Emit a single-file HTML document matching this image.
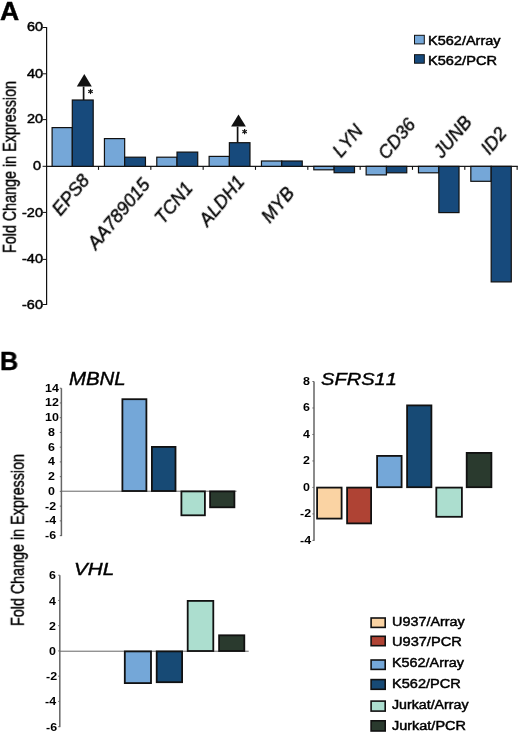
<!DOCTYPE html>
<html><head><meta charset="utf-8"><style>
html,body{margin:0;padding:0;background:#fff;}
body{width:520px;height:734px;position:relative;overflow:hidden;font-family:"Liberation Sans",sans-serif;font-kerning:none;}
.t{position:absolute;line-height:1;white-space:nowrap;transform-origin:0 0;will-change:transform;}
.r{position:absolute;}
.g{position:absolute;width:0;height:0;}
.g span{position:absolute;left:0;top:0;font-size:18.3px;line-height:1;font-style:italic;white-space:nowrap;transform:translate(-50%,-50%) rotate(-50deg);-webkit-text-stroke:0.35px #000;will-change:transform;}
.yt{position:absolute;width:0;height:0;}
.yt span{position:absolute;left:0;top:0;font-size:18.3px;line-height:1;white-space:nowrap;transform:translate(-50%,-50%) rotate(-90deg) scaleX(0.784);-webkit-text-stroke:0.4px #000;will-change:transform;}
</style></head><body>
<svg style="position:absolute;left:0;top:0" width="520" height="734" viewBox="0 0 520 734">
<rect x="46.00" y="27.00" width="1.20" height="278.00" fill="#111"/>
<rect x="42.60" y="27.00" width="4.00" height="1.00" fill="#111"/>
<rect x="42.60" y="73.30" width="4.00" height="1.00" fill="#111"/>
<rect x="42.60" y="119.10" width="4.00" height="1.00" fill="#111"/>
<rect x="42.60" y="165.80" width="4.00" height="1.00" fill="#111"/>
<rect x="42.60" y="211.90" width="4.00" height="1.00" fill="#111"/>
<rect x="42.60" y="258.90" width="4.00" height="1.00" fill="#111"/>
<rect x="42.60" y="304.00" width="4.00" height="1.00" fill="#111"/>
<rect x="46.60" y="165.75" width="471.20" height="1.20" fill="#111"/>
<rect x="97.95" y="166.35" width="1.10" height="3.50" fill="#111"/>
<rect x="150.28" y="166.35" width="1.10" height="3.50" fill="#111"/>
<rect x="202.61" y="166.35" width="1.10" height="3.50" fill="#111"/>
<rect x="254.94" y="166.35" width="1.10" height="3.50" fill="#111"/>
<rect x="307.27" y="166.35" width="1.10" height="3.50" fill="#111"/>
<rect x="359.60" y="166.35" width="1.10" height="3.50" fill="#111"/>
<rect x="411.93" y="166.35" width="1.10" height="3.50" fill="#111"/>
<rect x="464.26" y="166.35" width="1.10" height="3.50" fill="#111"/>
<rect x="516.59" y="166.35" width="1.10" height="3.50" fill="#111"/>
<rect x="52.10" y="127.60" width="20.20" height="38.75" fill="#75a7d8" stroke="#111" stroke-width="1.2"/>
<rect x="72.30" y="100.00" width="20.90" height="66.35" fill="#174a7c" stroke="#111" stroke-width="1.2"/>
<rect x="104.44" y="138.60" width="20.22" height="27.75" fill="#75a7d8" stroke="#111" stroke-width="1.2"/>
<rect x="124.66" y="157.20" width="20.80" height="9.15" fill="#174a7c" stroke="#111" stroke-width="1.2"/>
<rect x="156.78" y="157.20" width="20.24" height="9.15" fill="#75a7d8" stroke="#111" stroke-width="1.2"/>
<rect x="177.02" y="152.10" width="20.70" height="14.25" fill="#174a7c" stroke="#111" stroke-width="1.2"/>
<rect x="209.12" y="156.40" width="20.26" height="9.95" fill="#75a7d8" stroke="#111" stroke-width="1.2"/>
<rect x="229.38" y="142.70" width="20.60" height="23.65" fill="#174a7c" stroke="#111" stroke-width="1.2"/>
<rect x="261.46" y="161.00" width="20.28" height="5.35" fill="#75a7d8" stroke="#111" stroke-width="1.2"/>
<rect x="281.74" y="161.00" width="20.50" height="5.35" fill="#174a7c" stroke="#111" stroke-width="1.2"/>
<rect x="313.80" y="166.35" width="20.30" height="3.45" fill="#75a7d8" stroke="#111" stroke-width="1.2"/>
<rect x="334.10" y="166.35" width="20.40" height="6.35" fill="#174a7c" stroke="#111" stroke-width="1.2"/>
<rect x="366.14" y="166.35" width="20.32" height="8.55" fill="#75a7d8" stroke="#111" stroke-width="1.2"/>
<rect x="386.46" y="166.35" width="20.30" height="6.45" fill="#174a7c" stroke="#111" stroke-width="1.2"/>
<rect x="418.48" y="166.35" width="20.34" height="6.45" fill="#75a7d8" stroke="#111" stroke-width="1.2"/>
<rect x="438.82" y="166.35" width="20.20" height="46.25" fill="#174a7c" stroke="#111" stroke-width="1.2"/>
<rect x="470.82" y="166.35" width="20.36" height="14.95" fill="#75a7d8" stroke="#111" stroke-width="1.2"/>
<rect x="491.18" y="166.35" width="20.10" height="115.55" fill="#174a7c" stroke="#111" stroke-width="1.2"/>
<polygon points="76.8,86.6 91.8,86.6 84.3,74.0" fill="#111"/><line x1="83.6" y1="86.6" x2="83.6" y2="100.0" stroke="#111" stroke-width="1.7"/><g stroke="#111" stroke-width="1.15"><line x1="90.5" y1="88.9" x2="90.5" y2="94.1"/><line x1="88.2484" y1="90.2" x2="92.7516" y2="92.8"/><line x1="88.2484" y1="92.8" x2="92.7516" y2="90.2"/></g>
<polygon points="231.1,126.6 245.9,126.6 238.5,114.5" fill="#111"/><line x1="237.6" y1="126.6" x2="237.6" y2="142.5" stroke="#111" stroke-width="1.7"/><g stroke="#111" stroke-width="1.15"><line x1="244.6" y1="129.0" x2="244.6" y2="134.2"/><line x1="242.3484" y1="130.29999999999998" x2="246.8516" y2="132.9"/><line x1="242.3484" y1="132.9" x2="246.8516" y2="130.29999999999998"/></g>
<rect x="414.50" y="35.30" width="9.80" height="8.60" fill="#75a7d8" stroke="#111" stroke-width="1.0"/>
<rect x="414.50" y="54.70" width="9.80" height="8.50" fill="#174a7c" stroke="#111" stroke-width="1.0"/>
<rect x="60.65" y="388.20" width="1.50" height="147.90" fill="#666"/>
<rect x="59.80" y="387.70" width="1.60" height="1.00" fill="#666"/>
<rect x="59.80" y="402.44" width="1.60" height="1.00" fill="#666"/>
<rect x="59.80" y="417.18" width="1.60" height="1.00" fill="#666"/>
<rect x="59.80" y="431.92" width="1.60" height="1.00" fill="#666"/>
<rect x="59.80" y="446.66" width="1.60" height="1.00" fill="#666"/>
<rect x="59.80" y="461.40" width="1.60" height="1.00" fill="#666"/>
<rect x="59.80" y="476.14" width="1.60" height="1.00" fill="#666"/>
<rect x="59.80" y="490.88" width="1.60" height="1.00" fill="#666"/>
<rect x="59.80" y="505.62" width="1.60" height="1.00" fill="#666"/>
<rect x="59.80" y="520.36" width="1.60" height="1.00" fill="#666"/>
<rect x="59.80" y="535.10" width="1.60" height="1.00" fill="#666"/>
<rect x="61.40" y="490.70" width="175.10" height="1.00" fill="#666"/>
<rect x="122.40" y="399.20" width="24.00" height="91.80" fill="#74a7d8" stroke="#111" stroke-width="1.8"/>
<rect x="151.90" y="446.90" width="23.60" height="44.10" fill="#174a75" stroke="#111" stroke-width="1.8"/>
<rect x="181.40" y="491.40" width="23.50" height="23.90" fill="#acdecf" stroke="#111" stroke-width="1.8"/>
<rect x="210.10" y="491.40" width="24.30" height="15.90" fill="#2a3a2e" stroke="#111" stroke-width="1.8"/>
<rect x="313.25" y="381.50" width="1.50" height="159.38" fill="#666"/>
<rect x="312.40" y="381.00" width="1.60" height="1.00" fill="#666"/>
<rect x="312.40" y="407.48" width="1.60" height="1.00" fill="#666"/>
<rect x="312.40" y="433.96" width="1.60" height="1.00" fill="#666"/>
<rect x="312.40" y="460.44" width="1.60" height="1.00" fill="#666"/>
<rect x="312.40" y="486.92" width="1.60" height="1.00" fill="#666"/>
<rect x="312.40" y="513.40" width="1.60" height="1.00" fill="#666"/>
<rect x="312.40" y="539.88" width="1.60" height="1.00" fill="#666"/>
<rect x="317.10" y="487.60" width="24.50" height="31.00" fill="#fad3a3" stroke="#111" stroke-width="1.8"/>
<rect x="347.10" y="487.60" width="24.00" height="35.80" fill="#af4334" stroke="#111" stroke-width="1.8"/>
<rect x="377.10" y="455.90" width="24.50" height="31.30" fill="#74a7d8" stroke="#111" stroke-width="1.8"/>
<rect x="407.10" y="405.40" width="24.30" height="81.80" fill="#174a75" stroke="#111" stroke-width="1.8"/>
<rect x="436.30" y="487.60" width="25.60" height="29.20" fill="#acdecf" stroke="#111" stroke-width="1.8"/>
<rect x="466.70" y="452.90" width="24.70" height="34.30" fill="#2a3a2e" stroke="#111" stroke-width="1.8"/>
<rect x="59.05" y="575.20" width="1.50" height="151.94" fill="#666"/>
<rect x="58.20" y="574.70" width="1.60" height="1.00" fill="#666"/>
<rect x="58.20" y="599.94" width="1.60" height="1.00" fill="#666"/>
<rect x="58.20" y="625.18" width="1.60" height="1.00" fill="#666"/>
<rect x="58.20" y="650.42" width="1.60" height="1.00" fill="#666"/>
<rect x="58.20" y="675.66" width="1.60" height="1.00" fill="#666"/>
<rect x="58.20" y="700.90" width="1.60" height="1.00" fill="#666"/>
<rect x="58.20" y="726.14" width="1.60" height="1.00" fill="#666"/>
<rect x="59.80" y="650.70" width="188.90" height="1.00" fill="#666"/>
<rect x="124.80" y="651.40" width="26.20" height="31.70" fill="#74a7d8" stroke="#111" stroke-width="1.8"/>
<rect x="156.70" y="651.40" width="25.40" height="30.80" fill="#174a75" stroke="#111" stroke-width="1.8"/>
<rect x="187.70" y="600.90" width="25.60" height="50.10" fill="#acdecf" stroke="#111" stroke-width="1.8"/>
<rect x="219.10" y="635.30" width="25.20" height="15.70" fill="#2a3a2e" stroke="#111" stroke-width="1.8"/>
<rect x="371.10" y="618.00" width="14.10" height="9.40" fill="#fad3a3" stroke="#111" stroke-width="1.6"/>
<rect x="371.10" y="636.30" width="14.10" height="9.40" fill="#af4334" stroke="#111" stroke-width="1.6"/>
<rect x="371.10" y="660.00" width="14.10" height="9.40" fill="#74a7d8" stroke="#111" stroke-width="1.6"/>
<rect x="371.10" y="679.60" width="14.10" height="9.70" fill="#174a75" stroke="#111" stroke-width="1.6"/>
<rect x="371.10" y="701.10" width="14.10" height="10.00" fill="#acdecf" stroke="#111" stroke-width="1.6"/>
<rect x="371.10" y="720.80" width="14.10" height="10.20" fill="#2a3a2e" stroke="#111" stroke-width="1.6"/>
</svg>
<div class="t" style="left:0.49px;top:-1.98px;font-size:25.73px;font-weight:bold;font-style:normal;color:#000;transform:scaleX(1.0342);-webkit-text-stroke:0.4px #000;margin-top:0.9px;">A</div>
<div class="t" style="left:26.73px;top:20.52px;font-size:12.40px;font-weight:normal;font-style:normal;color:#000;transform:scaleX(1.1700);-webkit-text-stroke:0.45px #000;">60</div>
<div class="t" style="left:26.73px;top:68.07px;font-size:12.40px;font-weight:normal;font-style:normal;color:#000;transform:scaleX(1.1700);-webkit-text-stroke:0.45px #000;">40</div>
<div class="t" style="left:26.73px;top:113.37px;font-size:12.40px;font-weight:normal;font-style:normal;color:#000;transform:scaleX(1.1700);-webkit-text-stroke:0.45px #000;">20</div>
<div class="t" style="left:33.30px;top:159.82px;font-size:12.40px;font-weight:normal;font-style:normal;color:#000;transform:scaleX(1.1700);-webkit-text-stroke:0.45px #000;">0</div>
<div class="t" style="left:22.10px;top:206.67px;font-size:12.40px;font-weight:normal;font-style:normal;color:#000;transform:scaleX(1.1700);-webkit-text-stroke:0.45px #000;">-20</div>
<div class="t" style="left:22.10px;top:253.47px;font-size:12.40px;font-weight:normal;font-style:normal;color:#000;transform:scaleX(1.1700);-webkit-text-stroke:0.45px #000;">-40</div>
<div class="t" style="left:22.10px;top:298.77px;font-size:12.40px;font-weight:normal;font-style:normal;color:#000;transform:scaleX(1.1700);-webkit-text-stroke:0.45px #000;">-60</div>
<div class="g" style="left:70.85px;top:194.85px"><span>EPS8</span></div>
<div class="g" style="left:118.50px;top:214.10px"><span>AA789015</span></div>
<div class="g" style="left:174.15px;top:203.25px"><span>TCN1</span></div>
<div class="g" style="left:222.20px;top:200.55px"><span>ALDH1</span></div>
<div class="g" style="left:277.50px;top:204.70px"><span>MYB</span></div>
<div class="g" style="left:347.70px;top:140.50px"><span>LYN</span></div>
<div class="g" style="left:397.20px;top:139.15px"><span>CD36</span></div>
<div class="g" style="left:452.80px;top:136.85px"><span>JUNB</span></div>
<div class="g" style="left:494.45px;top:141.20px"><span>ID2</span></div>
<div class="t" style="left:428.31px;top:35.32px;font-size:12.14px;font-weight:normal;font-style:normal;color:#000;transform:scaleX(1.1970);-webkit-text-stroke:0.45px #000;">K562/Array</div>
<div class="t" style="left:428.30px;top:54.72px;font-size:12.14px;font-weight:normal;font-style:normal;color:#000;transform:scaleX(1.2039);-webkit-text-stroke:0.45px #000;">K562/PCR</div>
<div class="yt" style="left:9.50px;top:167.40px"><span>Fold Change in Expression</span></div>
<div class="yt" style="left:18.00px;top:539.60px"><span>Fold Change in Expression</span></div>
<div class="t" style="left:0.17px;top:348.10px;font-size:25.87px;font-weight:bold;font-style:normal;color:#000;transform:scaleX(0.9728);-webkit-text-stroke:0.4px #000;margin-top:1.1px;">B</div>
<div class="t" style="left:44.68px;top:382.67px;font-size:11.00px;font-weight:bold;font-style:normal;color:#000;transform:scaleX(1.1300);">14</div>
<div class="t" style="left:44.89px;top:397.47px;font-size:11.00px;font-weight:bold;font-style:normal;color:#000;transform:scaleX(1.1300);">12</div>
<div class="t" style="left:44.90px;top:412.16px;font-size:11.00px;font-weight:bold;font-style:normal;color:#000;transform:scaleX(1.1300);">10</div>
<div class="t" style="left:48.04px;top:426.90px;font-size:11.00px;font-weight:bold;font-style:normal;color:#000;transform:scaleX(1.1300);">8</div>
<div class="t" style="left:48.04px;top:441.64px;font-size:11.00px;font-weight:bold;font-style:normal;color:#000;transform:scaleX(1.1300);">6</div>
<div class="t" style="left:47.98px;top:456.37px;font-size:11.00px;font-weight:bold;font-style:normal;color:#000;transform:scaleX(1.1300);">4</div>
<div class="t" style="left:48.08px;top:471.17px;font-size:11.00px;font-weight:bold;font-style:normal;color:#000;transform:scaleX(1.1300);">2</div>
<div class="t" style="left:48.05px;top:485.86px;font-size:11.00px;font-weight:bold;font-style:normal;color:#000;transform:scaleX(1.1300);">0</div>
<div class="t" style="left:45.08px;top:500.65px;font-size:11.00px;font-weight:bold;font-style:normal;color:#000;transform:scaleX(1.1300);">-2</div>
<div class="t" style="left:44.86px;top:515.33px;font-size:11.00px;font-weight:bold;font-style:normal;color:#000;transform:scaleX(1.1300);">-4</div>
<div class="t" style="left:45.06px;top:530.08px;font-size:11.00px;font-weight:bold;font-style:normal;color:#000;transform:scaleX(1.1300);">-6</div>
<div class="t" style="left:68.57px;top:369.92px;font-size:18.17px;font-weight:normal;font-style:italic;color:#000;transform:scaleX(1.1243);-webkit-text-stroke:0.4px #000;">MBNL</div>
<div class="t" style="left:303.27px;top:375.98px;font-size:11.00px;font-weight:bold;font-style:normal;color:#000;transform:scaleX(1.1300);">8</div>
<div class="t" style="left:303.34px;top:402.46px;font-size:11.00px;font-weight:bold;font-style:normal;color:#000;transform:scaleX(1.1300);">6</div>
<div class="t" style="left:302.95px;top:428.93px;font-size:11.00px;font-weight:bold;font-style:normal;color:#000;transform:scaleX(1.1300);">4</div>
<div class="t" style="left:303.38px;top:455.47px;font-size:11.00px;font-weight:bold;font-style:normal;color:#000;transform:scaleX(1.1300);">2</div>
<div class="t" style="left:303.40px;top:481.90px;font-size:11.00px;font-weight:bold;font-style:normal;color:#000;transform:scaleX(1.1300);">0</div>
<div class="t" style="left:299.95px;top:508.43px;font-size:11.00px;font-weight:bold;font-style:normal;color:#000;transform:scaleX(1.1300);">-2</div>
<div class="t" style="left:299.51px;top:534.85px;font-size:11.00px;font-weight:bold;font-style:normal;color:#000;transform:scaleX(1.1300);">-4</div>
<div class="t" style="left:321.13px;top:370.53px;font-size:17.33px;font-weight:normal;font-style:italic;color:#000;transform:scaleX(1.1599);-webkit-text-stroke:0.4px #000;">SFRS11</div>
<div class="t" style="left:49.14px;top:570.28px;font-size:11.00px;font-weight:bold;font-style:normal;color:#000;transform:scaleX(1.1300);">6</div>
<div class="t" style="left:48.75px;top:595.51px;font-size:11.00px;font-weight:bold;font-style:normal;color:#000;transform:scaleX(1.1300);">4</div>
<div class="t" style="left:49.18px;top:620.81px;font-size:11.00px;font-weight:bold;font-style:normal;color:#000;transform:scaleX(1.1300);">2</div>
<div class="t" style="left:49.20px;top:646.00px;font-size:11.00px;font-weight:bold;font-style:normal;color:#000;transform:scaleX(1.1300);">0</div>
<div class="t" style="left:45.75px;top:671.29px;font-size:11.00px;font-weight:bold;font-style:normal;color:#000;transform:scaleX(1.1300);">-2</div>
<div class="t" style="left:45.31px;top:696.47px;font-size:11.00px;font-weight:bold;font-style:normal;color:#000;transform:scaleX(1.1300);">-4</div>
<div class="t" style="left:45.70px;top:721.72px;font-size:11.00px;font-weight:bold;font-style:normal;color:#000;transform:scaleX(1.1300);">-6</div>
<div class="t" style="left:73.62px;top:561.05px;font-size:16.72px;font-weight:normal;font-style:italic;color:#000;transform:scaleX(1.2339);-webkit-text-stroke:0.4px #000;margin-top:1.3px;">VHL</div>
<div class="t" style="left:391.79px;top:615.60px;font-size:12.28px;font-weight:normal;font-style:normal;color:#000;transform:scaleX(1.1726);-webkit-text-stroke:0.45px #000;">U937/Array</div>
<div class="t" style="left:391.77px;top:636.20px;font-size:12.28px;font-weight:normal;font-style:normal;color:#000;transform:scaleX(1.1890);-webkit-text-stroke:0.45px #000;">U937/PCR</div>
<div class="t" style="left:391.72px;top:656.80px;font-size:12.28px;font-weight:normal;font-style:normal;color:#000;transform:scaleX(1.1736);-webkit-text-stroke:0.45px #000;">K562/Array</div>
<div class="t" style="left:391.70px;top:677.60px;font-size:12.28px;font-weight:normal;font-style:normal;color:#000;transform:scaleX(1.1886);-webkit-text-stroke:0.45px #000;">K562/PCR</div>
<div class="t" style="left:391.98px;top:698.90px;font-size:12.28px;font-weight:normal;font-style:normal;color:#000;transform:scaleX(1.1578);-webkit-text-stroke:0.45px #000;">Jurkat/Array</div>
<div class="t" style="left:391.97px;top:719.60px;font-size:12.28px;font-weight:normal;font-style:normal;color:#000;transform:scaleX(1.1785);-webkit-text-stroke:0.45px #000;">Jurkat/PCR</div>
</body></html>
